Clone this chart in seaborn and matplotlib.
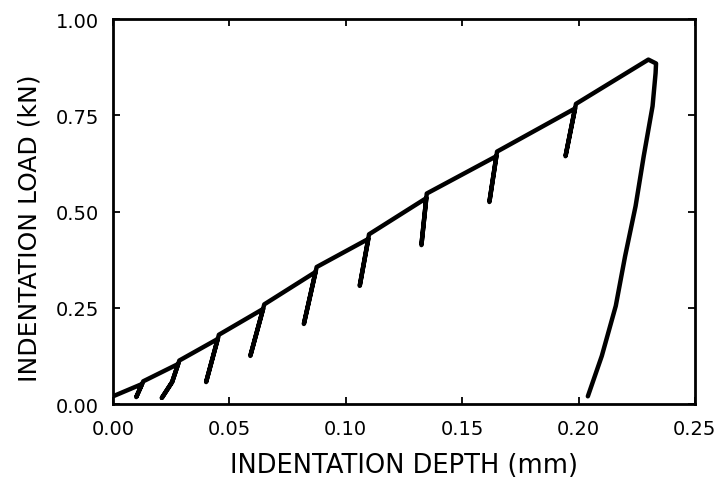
import matplotlib
matplotlib.use("Agg")
import matplotlib.pyplot as plt
import numpy as np
import pandas as pd
import seaborn as sns

# Readings from the cyclic indentation curve (depth in mm, load in kN).
start_depth, start_load = 0.0, 0.02

# points where each partial unload starts
junction_depth = [0.0125, 0.028, 0.045, 0.0645, 0.087, 0.1097, 0.1346, 0.1647, 0.1985]
junction_load = [0.052, 0.104, 0.169, 0.247, 0.343, 0.429, 0.535, 0.644, 0.768]

# lowest point of each partial unload
unload_end_depth = [0.010, 0.021, 0.040, 0.059, 0.082, 0.106, 0.1325, 0.1617, 0.1944]
unload_end_load = [0.018, 0.016, 0.057, 0.125, 0.208, 0.307, 0.413, 0.525, 0.644]

# where reloading rejoins the envelope (just above each junction)
knee_depth = [0.0130, 0.0285, 0.0455, 0.0650, 0.0875, 0.1100, 0.1348, 0.1650, 0.1989]
knee_load = [0.059, 0.113, 0.180, 0.259, 0.356, 0.441, 0.547, 0.656, 0.780]

# second cycle bends on the way down
bend2_depth, bend2_load = 0.0254, 0.057

# peak and final unloading branch
final_depth = [0.2300, 0.2333, 0.2331, 0.2318, 0.2280, 0.2245, 0.2200, 0.2160, 0.2100, 0.2040]
final_load = [0.895, 0.885, 0.860, 0.774, 0.644, 0.514, 0.384, 0.255, 0.125, 0.020]


def build_path():
    xs, ys = [start_depth], [start_load]
    for i in range(len(junction_depth)):
        xs.append(junction_depth[i]); ys.append(junction_load[i])
        if i == 1:
            xs.append(bend2_depth); ys.append(bend2_load)
        xs.append(unload_end_depth[i]); ys.append(unload_end_load[i])
        if i == 1:
            xs.append(bend2_depth); ys.append(bend2_load)
        xs.append(knee_depth[i]); ys.append(knee_load[i])
    xs += final_depth
    ys += final_load
    return pd.DataFrame({"depth": xs, "load": ys})


sns.set_theme(style="ticks")
plt.rcParams["font.family"] = ["DejaVu Sans"]

fig = plt.figure(figsize=(7.22, 4.81), dpi=100)
ax = fig.add_axes([0.1565, 0.158, 0.806, 0.800])

path = build_path()
sns.lineplot(data=path, x="depth", y="load", sort=False, estimator=None,
             color="black", lw=3.2, ax=ax,
             solid_joinstyle="round", solid_capstyle="round")

ticks_x = np.arange(0, 0.251, 0.05)
ticks_y = np.arange(0, 1.001, 0.25)
ax.set_xlim(0, 0.25)
ax.set_ylim(0, 1.0)
ax.set_xticks(ticks_x)
ax.set_yticks(ticks_y)
ax.set_xticklabels([f"{v:.2f}" for v in ticks_x])
ax.set_yticklabels([f"{v:.2f}" for v in ticks_y])
ax.tick_params(direction="in", top=True, right=True, length=5, width=1.3,
               labelsize=14, colors="black")
ax.tick_params(axis="x", pad=11)
ax.tick_params(axis="y", pad=10)
for s in ax.spines.values():
    s.set_linewidth(2.0)
    s.set_color("black")

ax.set_xlabel("INDENTATION DEPTH (mm)", fontsize=18.5, va="center", color="black")
ax.set_ylabel("INDENTATION LOAD (kN)", fontsize=18, va="center", color="black")
ax.xaxis.set_label_coords(0.5, -0.158)
ax.yaxis.set_label_coords(-0.143, 0.46)

fig.savefig("out.png", dpi=100)
